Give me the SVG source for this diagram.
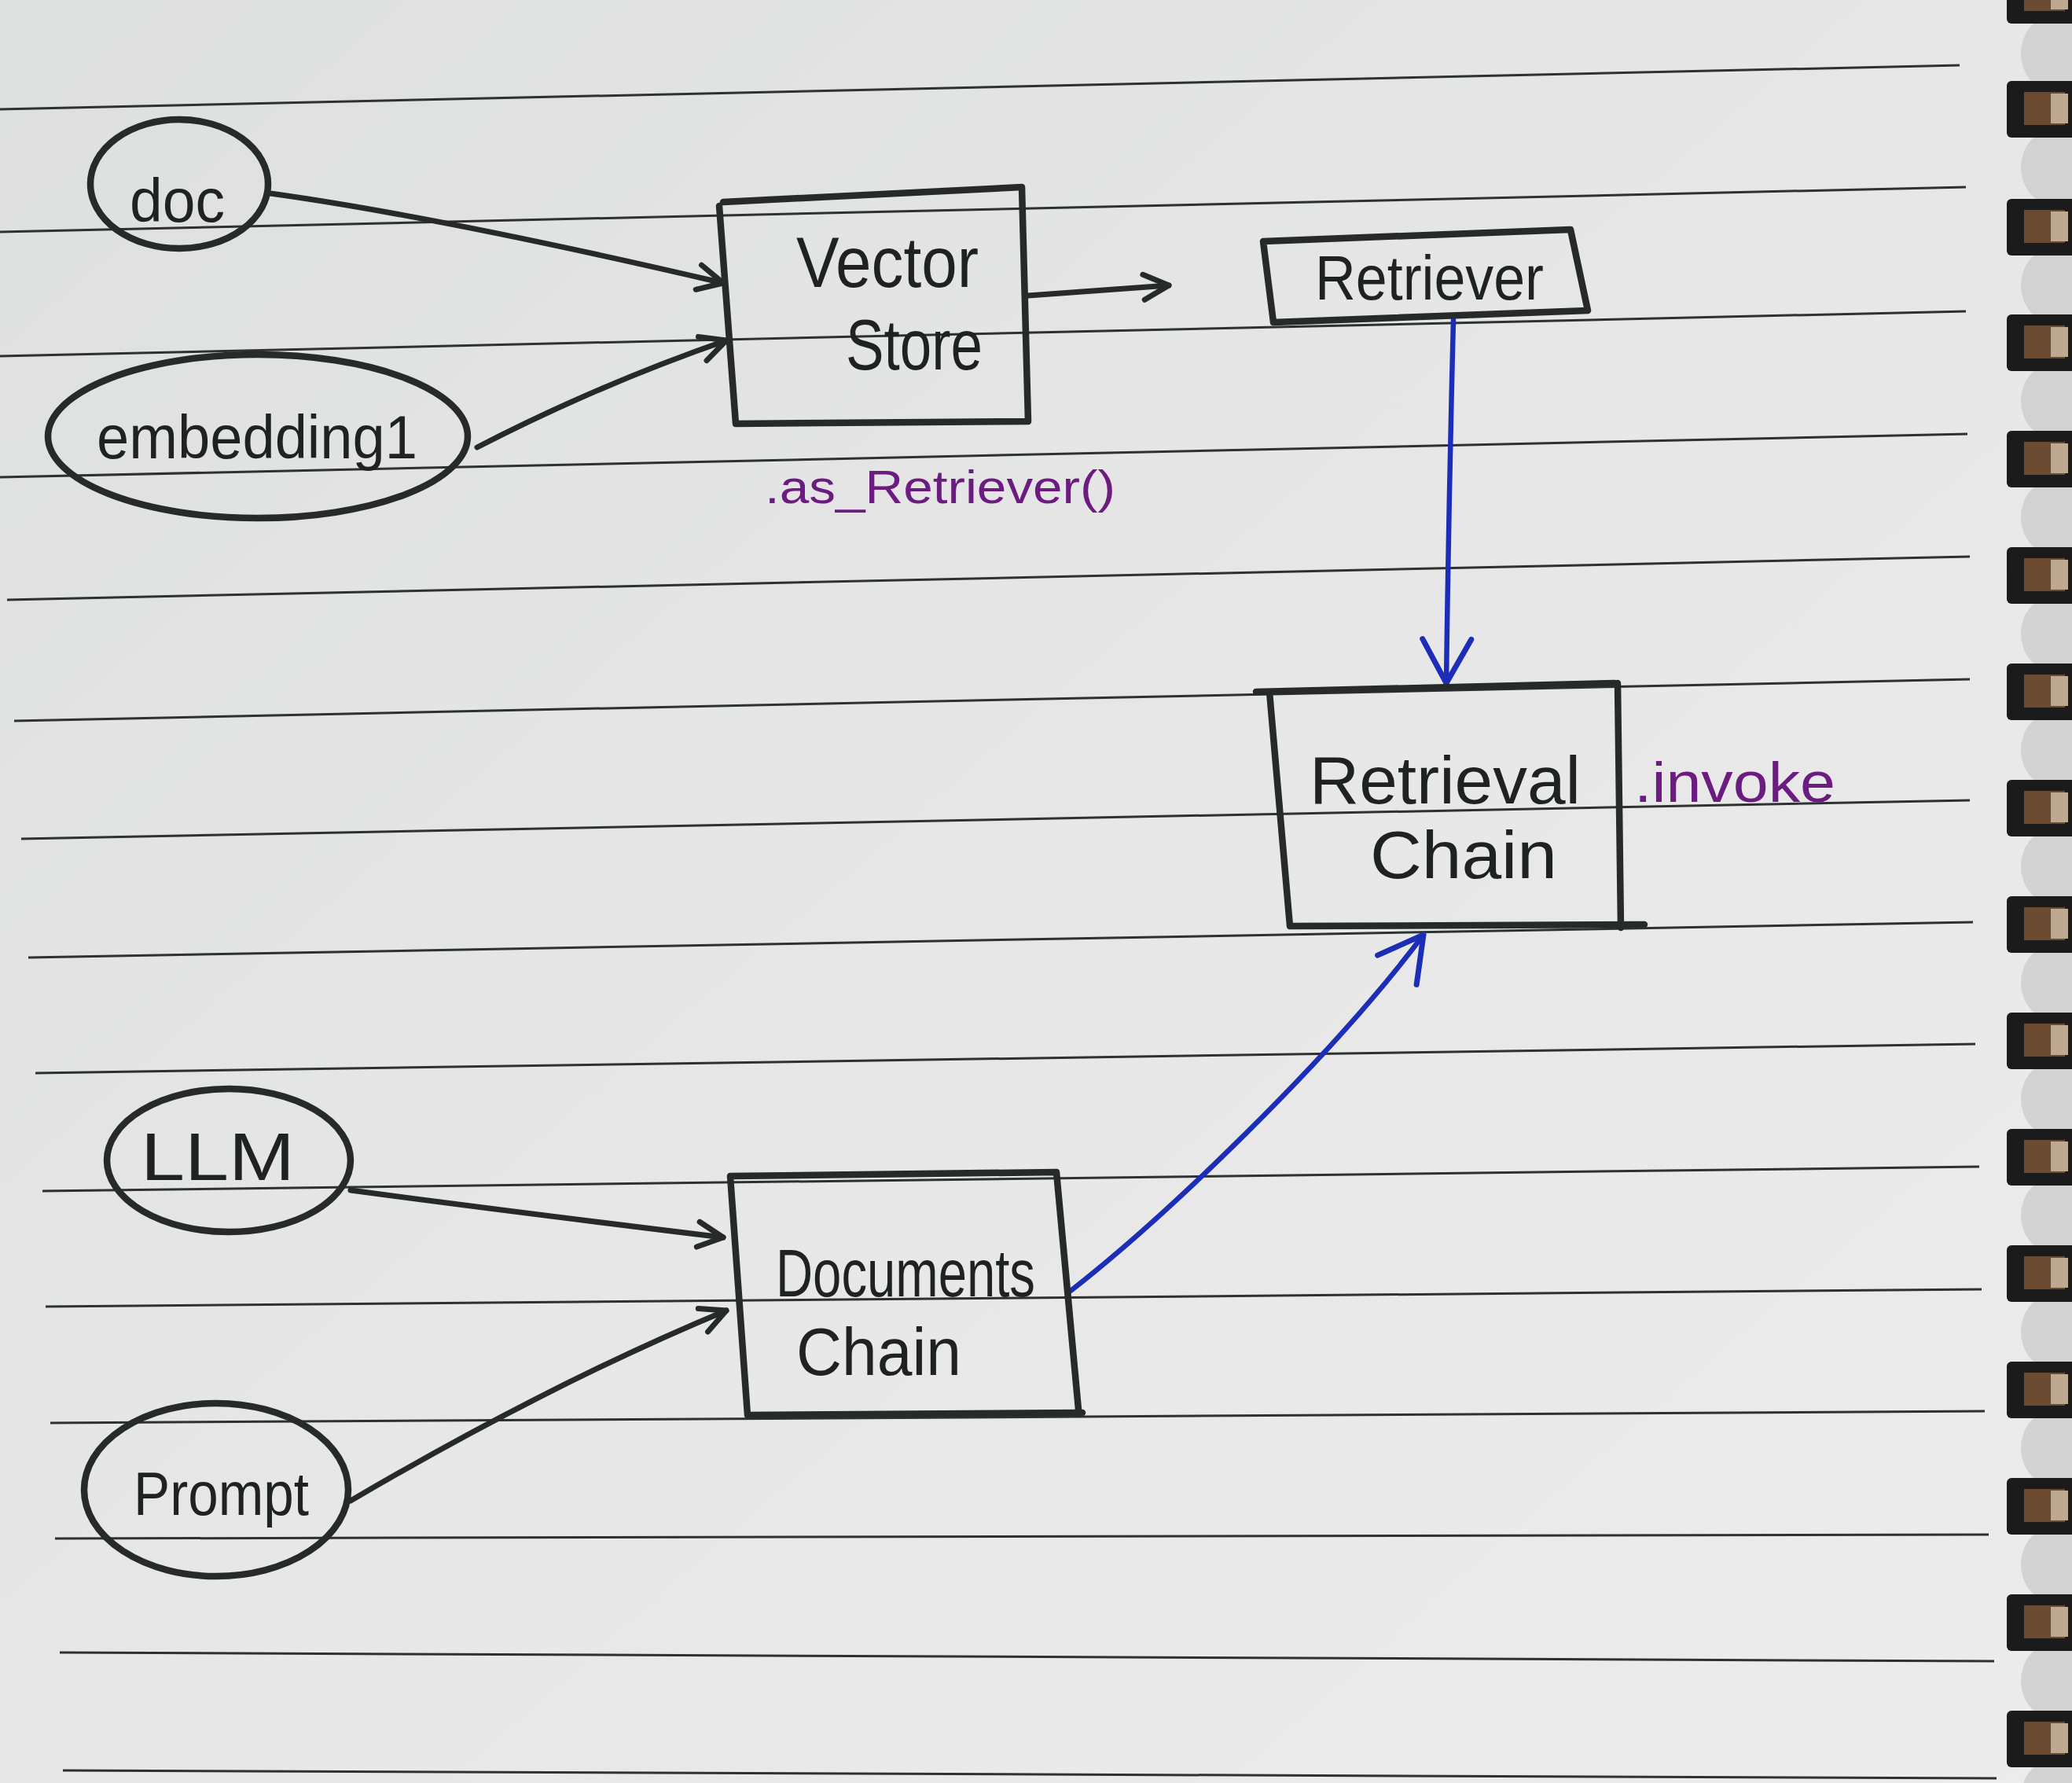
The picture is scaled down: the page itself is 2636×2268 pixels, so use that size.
<svg xmlns="http://www.w3.org/2000/svg" width="2636" height="2268" viewBox="0 0 2636 2268">
<defs>
<linearGradient id="paper" x1="0" y1="0" x2="1" y2="1">
<stop offset="0" stop-color="#dedfdf"/>
<stop offset="0.5" stop-color="#e7e7e7"/>
<stop offset="1" stop-color="#ececec"/>
</linearGradient>
<marker id="ah" viewBox="0 0 40 40" refX="36" refY="20" markerWidth="40" markerHeight="40" markerUnits="userSpaceOnUse" orient="auto">
<path d="M4,4 L36,20 L4,36" fill="none" stroke="#262a2a" stroke-width="7" stroke-linecap="round" stroke-linejoin="round"/>
</marker>
<marker id="ahb" viewBox="0 0 70 70" refX="64" refY="35" markerWidth="70" markerHeight="70" markerUnits="userSpaceOnUse" orient="auto">
<path d="M8,4 L64,35 L8,66" fill="none" stroke="#1c2db8" stroke-width="7" stroke-linecap="round" stroke-linejoin="round"/>
</marker>
<g id="ring">
<ellipse cx="60" cy="110" rx="42" ry="48" fill="#c9c9c9" opacity="0.7"/>
<rect x="0" y="0" width="90" height="72" rx="6" fill="#1b1b1b"/>
<rect x="22" y="14" width="52" height="42" fill="#6b4a32"/>
<rect x="56" y="16" width="22" height="38" fill="#bda98f"/>
</g>
</defs>
<style>
.pen{fill:none;stroke:#262a2a;stroke-width:8.5;stroke-linecap:round;stroke-linejoin:round}
.rule{stroke:#2e3131;stroke-width:3}
.con{fill:none;stroke:#262a2a;stroke-width:7;stroke-linecap:round}
.blue{fill:none;stroke:#1c2db8;stroke-width:6.5;stroke-linecap:round}
.t{font-family:"Liberation Sans",Arial,sans-serif;fill:#1f2222}
.p{font-family:"Liberation Sans",Arial,sans-serif;fill:#6c1c80}
</style>
<rect width="2636" height="2268" fill="url(#paper)"/>
<g id="rules">
<line class="rule" x1="0" y1="139" x2="2493" y2="83"/>
<line class="rule" x1="0" y1="295" x2="2501" y2="238"/>
<line class="rule" x1="0" y1="453" x2="2501" y2="396"/>
<line class="rule" x1="0" y1="607" x2="2503" y2="552"/>
<line class="rule" x1="9" y1="763" x2="2506" y2="708"/>
<line class="rule" x1="18" y1="917" x2="2506" y2="864"/>
<line class="rule" x1="27" y1="1067" x2="2506" y2="1018"/>
<line class="rule" x1="36" y1="1218" x2="2510" y2="1173"/>
<line class="rule" x1="45" y1="1365" x2="2513" y2="1328"/>
<line class="rule" x1="54" y1="1515" x2="2518" y2="1484"/>
<line class="rule" x1="58" y1="1662" x2="2521" y2="1640"/>
<line class="rule" x1="64" y1="1810" x2="2525" y2="1795"/>
<line class="rule" x1="70" y1="1957" x2="2530" y2="1952"/>
<line class="rule" x1="76" y1="2102" x2="2537" y2="2113"/>
<line class="rule" x1="80" y1="2252" x2="2540" y2="2262"/>
</g>
<g id="binding">
<use href="#ring" x="2553" y="-42"/>
<use href="#ring" x="2553" y="103"/>
<use href="#ring" x="2553" y="253"/>
<use href="#ring" x="2553" y="400"/>
<use href="#ring" x="2553" y="548"/>
<use href="#ring" x="2553" y="696"/>
<use href="#ring" x="2553" y="844"/>
<use href="#ring" x="2553" y="992"/>
<use href="#ring" x="2553" y="1140"/>
<use href="#ring" x="2553" y="1288"/>
<use href="#ring" x="2553" y="1436"/>
<use href="#ring" x="2553" y="1584"/>
<use href="#ring" x="2553" y="1732"/>
<use href="#ring" x="2553" y="1880"/>
<use href="#ring" x="2553" y="2028"/>
<use href="#ring" x="2553" y="2176"/>
</g>
<g id="connectors">
<path class="con" d="M344,246 Q560,276 920,360" marker-end="url(#ah)"/>
<path class="con" d="M607,569 Q760,490 924,433" marker-end="url(#ah)"/>
<path class="con" d="M1308,376 L1487,363" marker-end="url(#ah)"/>
<path class="con" d="M446,1514 Q640,1540 920,1574" marker-end="url(#ah)"/>
<path class="con" d="M446,1909 Q700,1760 924,1667" marker-end="url(#ah)"/>
<path class="blue" d="M1849,407 Q1843,640 1840,869" marker-end="url(#ahb)"/>
<path class="blue" d="M1362,1642 C1480,1550 1690,1350 1811,1189" marker-end="url(#ahb)"/>
</g>
<g id="doc">
<ellipse class="pen" cx="228" cy="234" rx="113" ry="82"/>
<text class="t" x="165" y="282" font-size="78" textLength="121" lengthAdjust="spacingAndGlyphs">doc</text>
</g>
<g id="embedding1">
<ellipse class="pen" cx="328" cy="555" rx="267" ry="104"/>
<text class="t" x="123" y="583" font-size="78" textLength="408" lengthAdjust="spacingAndGlyphs">embedding1</text>
</g>
<g id="vector-store">
<path class="pen" d="M920,257 L1300,238 L1308,536 L936,539 L915,262"/>
<text class="t" x="1013" y="365" font-size="90" textLength="232" lengthAdjust="spacingAndGlyphs">Vector</text>
<text class="t" x="1076" y="470" font-size="90" textLength="174" lengthAdjust="spacingAndGlyphs">Store</text>
<text class="p" x="973" y="640" font-size="60" textLength="446" lengthAdjust="spacingAndGlyphs">.as_Retriever()</text>
</g>
<g id="retriever">
<path class="pen" d="M1607,307 L1998,292 L2020,395 L1620,410 Z"/>
<text class="t" x="1673" y="381" font-size="80" textLength="291" lengthAdjust="spacingAndGlyphs">Retriever</text>
</g>
<g id="retrieval-chain">
<path class="pen" d="M1598,880 L2054,869 M2058,869 L2062,1180 M2092,1176 L1641,1178 L1615,880"/>
<text class="t" x="1666" y="1022" font-size="86" textLength="345" lengthAdjust="spacingAndGlyphs">Retrieval</text>
<text class="t" x="1743" y="1117" font-size="86" textLength="238" lengthAdjust="spacingAndGlyphs">Chain</text>
<text class="p" x="2079" y="1020" font-size="72" textLength="256" lengthAdjust="spacingAndGlyphs">.invoke</text>
</g>
<g id="llm">
<ellipse class="pen" cx="291" cy="1476" rx="155" ry="91"/>
<text class="t" x="179" y="1501" font-size="86" textLength="196" lengthAdjust="spacingAndGlyphs">LLM</text>
</g>
<g id="prompt">
<ellipse class="pen" cx="275" cy="1895" rx="168" ry="110"/>
<text class="t" x="170" y="1927" font-size="78" textLength="223" lengthAdjust="spacingAndGlyphs">Prompt</text>
</g>
<g id="documents-chain">
<path class="pen" d="M929,1496 L1344,1491 L1372,1793 M1377,1797 L951,1800 L929,1496"/>
<text class="t" x="987" y="1649" font-size="86" textLength="330" lengthAdjust="spacingAndGlyphs">Documents</text>
<text class="t" x="1013" y="1749" font-size="86" textLength="210" lengthAdjust="spacingAndGlyphs">Chain</text>
</g>
</svg>
